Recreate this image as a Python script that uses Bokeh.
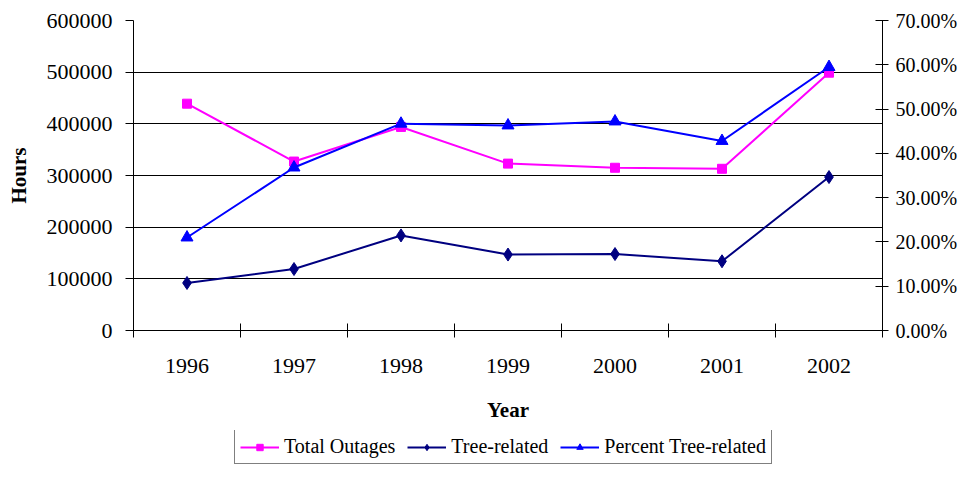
from bokeh.plotting import figure
from bokeh.layouts import column
from bokeh.models import (Range1d, LinearAxis, FixedTicker, Legend, LegendItem,
                          ColumnDataSource, Grid)
from bokeh.embed import file_html
from bokeh.resources import INLINE

# ---- data ----
years = ["1996", "1997", "1998", "1999", "2000", "2001", "2002"]
total_outages = [439000, 327000, 394000, 323000, 315000, 313000, 499000]
tree_related = [92000, 119000, 184000, 147000, 148000, 134000, 297000]
percent_tree = [0.210, 0.368, 0.467, 0.463, 0.472, 0.428, 0.595]

hour_ticks = [0, 100000, 200000, 300000, 400000, 500000, 600000]
hour_labels = ["0", "100000", "200000", "300000", "400000", "500000", "600000"]
pct_ticks = [0.0, 0.1, 0.2, 0.3, 0.4, 0.5, 0.6, 0.7]
pct_labels = ["0.00%", "10.00%", "20.00%", "30.00%", "40.00%", "50.00%", "60.00%", "70.00%"]

series_names = ["Total Outages", "Tree-related", "Percent Tree-related"]
series_colors = ["#FF00FF", "#000080", "#0000FF"]

FONT = "Liberation Serif"

x_centers = [i + 0.5 for i in range(len(years))]
x_bounds = list(range(len(years) + 1))

src = ColumnDataSource(dict(x=x_centers, total=total_outages, tree=tree_related, pct=percent_tree))

p = figure(width=960, height=430, output_backend="svg", toolbar_location=None,
           x_range=Range1d(0, len(years)), y_range=Range1d(hour_ticks[0], hour_ticks[-1]),
           x_axis_type=None, y_axis_type=None,
           min_border_left=133, min_border_right=76, min_border_top=20, min_border_bottom=100)
p.outline_line_color = None
p.background_fill_color = "white"
p.border_fill_color = "white"
p.extra_y_ranges = {"pct": Range1d(pct_ticks[0], pct_ticks[-1])}

yax = LinearAxis(ticker=FixedTicker(ticks=hour_ticks),
                 major_label_overrides={t: l for t, l in zip(hour_ticks, hour_labels)},
                 axis_label="Hours")
yax.major_tick_in = 0
yax.major_tick_out = 8
yax.minor_tick_line_color = None
yax.major_label_standoff = 13
yax.axis_label_standoff = 13
p.add_layout(yax, "left")

rax = LinearAxis(y_range_name="pct", ticker=FixedTicker(ticks=pct_ticks),
                 major_label_overrides={t: l for t, l in zip(pct_ticks, pct_labels)})
rax.major_tick_in = 7
rax.major_tick_out = 6
rax.minor_tick_line_color = None
rax.major_label_standoff = 7
p.add_layout(rax, "right")

xax = LinearAxis(ticker=FixedTicker(ticks=x_centers, minor_ticks=x_bounds),
                 major_label_overrides={c: y for c, y in zip(x_centers, years)},
                 axis_label="Year")
xax.major_tick_in = 0
xax.major_tick_out = 7
xax.minor_tick_in = 7
xax.minor_tick_out = 7
xax.major_label_standoff = 21
xax.axis_label_standoff = 22
p.add_layout(xax, "below")

for ax in (yax, rax, xax):
    ax.axis_line_color = "black"
    ax.axis_line_width = 1
    ax.major_tick_line_color = "black"
    ax.major_label_text_font = FONT
    ax.major_label_text_font_size = "22px"
    ax.major_label_text_color = "black"
    ax.axis_label_text_font = FONT
    ax.axis_label_text_font_size = "21px"
    ax.axis_label_text_font_style = "bold"
    ax.axis_label_text_color = "black"
rax.major_label_text_font_size = "20px"
xax.major_tick_line_color = None
xax.minor_tick_line_color = "black"

p.add_layout(Grid(dimension=1, ticker=yax.ticker, grid_line_color="black", grid_line_width=1))

p.line("x", "total", source=src, line_color=series_colors[0], line_width=2)
p.scatter("x", "total", source=src, marker="square", size=9,
          fill_color=series_colors[0], line_color=series_colors[0])
p.line("x", "tree", source=src, line_color=series_colors[1], line_width=2)
p.scatter("x", "tree", source=src, marker="diamond", size=13,
          fill_color=series_colors[1], line_color=series_colors[1])
p.line("x", "pct", source=src, y_range_name="pct", line_color=series_colors[2], line_width=2)
p.scatter("x", "pct", source=src, y_range_name="pct", marker="triangle", size=12,
          fill_color=series_colors[2], line_color=series_colors[2])

# ---- legend strip below the chart (its frame is aligned with the chart frame) ----
pl = figure(width=960, height=34, output_backend="svg", toolbar_location=None,
            x_range=Range1d(0, len(years)), y_range=Range1d(0, 1),
            x_axis_type=None, y_axis_type=None, min_border=0)
pl.outline_line_color = None
pl.grid.visible = False
items = []
for col, marker, name, color in [("total", "square", series_names[0], series_colors[0]),
                                 ("tree", "diamond", series_names[1], series_colors[1]),
                                 ("pct", "triangle", series_names[2], series_colors[2])]:
    lr = pl.line("x", col, source=src, line_color=color, line_width=2, visible=False)
    sr = pl.scatter("x", col, source=src, marker=marker, size=9,
                    fill_color=color, line_color=color, visible=False)
    items.append(LegendItem(label=name, renderers=[lr, sr]))

legend = Legend(items=items, location=(101, 0), orientation="horizontal")
legend.border_line_color = "black"
legend.border_line_width = 1
legend.background_fill_color = "white"
legend.background_fill_alpha = 1
legend.label_text_font = FONT
legend.label_text_font_size = "20px"
legend.label_text_color = "black"
legend.glyph_width = 39
legend.glyph_height = 16
legend.label_standoff = 5
legend.spacing = 12
legend.padding = 5
legend.margin = 0
legend.label_height = 20
legend.click_policy = "none"
pl.add_layout(legend, "center")

layout = column(p, pl, spacing=0)
open("out.html", "w").write(file_html(layout, INLINE))
